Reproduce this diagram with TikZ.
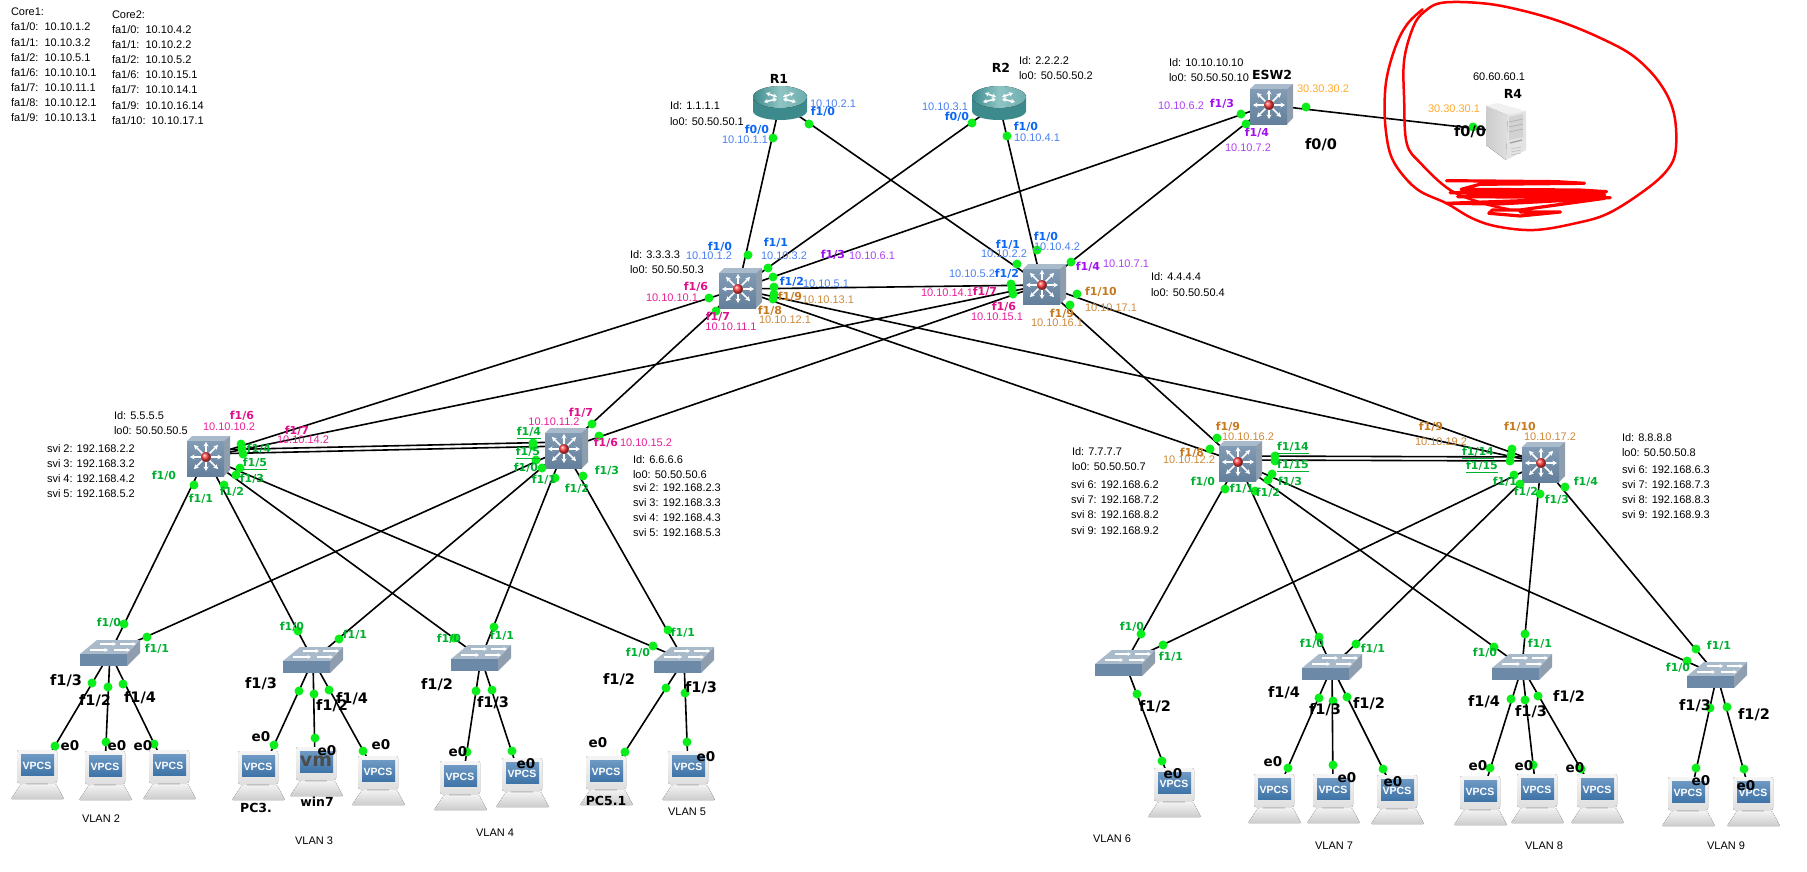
\documentclass[tikz,border=0pt]{standalone}
\usepackage{fontspec}
\setmainfont{Liberation Sans}
\newfontfamily\labf{DejaVu Sans}
\usetikzlibrary{arrows.meta}
\definecolor{ipblue}{HTML}{4A80F0}
\definecolor{pblue}{HTML}{0A66F5}
\definecolor{ipurple}{HTML}{B040F5}
\definecolor{ppurple}{HTML}{A010F0}
\definecolor{ipink}{HTML}{E8209A}
\definecolor{ppink}{HTML}{E0108A}
\definecolor{iorange}{HTML}{CE8A3C}
\definecolor{porange}{HTML}{C67A20}
\definecolor{igold}{HTML}{FFAA2A}
\definecolor{pgreen}{HTML}{00B030}
\definecolor{dotg}{HTML}{0CEE1C}
\definecolor{swfront}{HTML}{6C8AA8}
\definecolor{swtop}{HTML}{A9BBCB}
\definecolor{swside}{HTML}{8E9EAE}
\definecolor{teal1}{HTML}{3C8A8C}
\definecolor{teal2}{HTML}{8FC4C4}
\definecolor{scrtop}{HTML}{6E9AC4}
\definecolor{scrbot}{HTML}{3F74A8}
\newcounter{lbc}
\newcommand{\lb}[3]{\stepcounter{lbc}\node[#1] (lb\arabic{lbc}) at (#2) {#3};}
\newcommand{\pdot}[1]{\stepcounter{lbc}\node[portdot] (pd\arabic{lbc}) at (#1) {};}
\newcommand{\ulb}[1]{$\underline{\hbox{#1}}$}
\newcommand{\pcicon}[1]{\pic at (#1) {pcbody}; \lb{vpcs}{#1}{VPCS}}
\tikzset{
  lbbase/.style={inner sep=0pt,outer sep=0pt},
  tx/.style={lbbase,anchor=west,text=black,font=\fontsize{11}{13}\selectfont},
  vl/.style={lbbase,text=black,font=\fontsize{11}{13}\selectfont},
  ipb/.style={lbbase,text=ipblue,font=\fontsize{11}{13}\selectfont},
  ipu/.style={lbbase,text=ipurple,font=\fontsize{11}{13}\selectfont},
  ipk/.style={lbbase,text=ipink,font=\fontsize{11}{13}\selectfont},
  ior/.style={lbbase,text=iorange,font=\fontsize{11}{13}\selectfont},
  igo/.style={lbbase,text=igold,font=\fontsize{11}{13}\selectfont},
  pb/.style={lbbase,text=pblue,font=\labf\bfseries\fontsize{11}{13}\selectfont},
  ppu/.style={lbbase,text=ppurple,font=\labf\bfseries\fontsize{11}{13}\selectfont},
  ppk/.style={lbbase,text=ppink,font=\labf\bfseries\fontsize{11}{13}\selectfont},
  por/.style={lbbase,text=porange,font=\labf\bfseries\fontsize{11}{13}\selectfont},
  pg/.style={lbbase,text=pgreen,font=\labf\bfseries\fontsize{11}{13}\selectfont},
  pk/.style={lbbase,text=black,font=\labf\bfseries\fontsize{14.5}{16}\selectfont},
  ek/.style={lbbase,text=black,font=\labf\bfseries\fontsize{13.5}{16}\selectfont},
  nm/.style={lbbase,text=black,font=\labf\bfseries\fontsize{12.5}{15}\selectfont},
  vpcs/.style={lbbase,text=white,font=\bfseries\fontsize{10.5}{12}\selectfont},
  vmt/.style={lbbase,text=black!70,font=\labf\bfseries\fontsize{19}{20}\selectfont},
  devnode/.style={inner sep=0pt,outer sep=0pt,minimum size=6pt,draw=none},
  portdot/.style={circle,fill=dotg,draw=none,inner sep=0pt,minimum size=9pt},
  link/.style={draw=black,line width=1.6pt},
  scrib/.style={draw=red,line width=2.5pt,line cap=round,line join=round},
  mlsw/.pic={
    \fill[swtop] (-19,-16)--(-14,-21)--(24,-21)--(18,-16)--cycle;
    \fill[swside] (18,-16)--(24,-21)--(24,13)--(18,19)--cycle;
    \fill[top color=swfront!85!white,bottom color=swfront!92!black] (-19,-16) rectangle (18,19);
    \foreach \ang/\len in {0/16,45/17,90/14,135/17,180/16,225/17,270/15,315/17}
      \draw[white,line width=1.6pt,-{Stealth[length=4.5pt,width=5pt]}] (0,0) -- (\ang:\len);
    \shade[ball color=red!70!pink] (0,0) circle (5);
  },
  router/.pic={
    \fill[teal1] (-27,-8) -- (-27,8) arc[start angle=180,end angle=360,x radius=27,y radius=-9] -- (27,-8) -- cycle;
    \fill[left color=teal1,right color=teal2!60!teal1,middle color=teal2] (0,-6) ellipse (27 and 11);
    \foreach \sx/\sy/\tx/\ty in {-14/-10/-3/-6, 14/-10/3/-6, -3/-4/-16/-1, 3/-4/16/-1}
      \draw[white,line width=1.5pt,{Stealth[length=4pt,width=4.5pt]}-{Stealth[length=4pt,width=4.5pt]}] (\sx,\sy) -- (\tx,\ty);
  },
  accsw/.pic={
    \fill[swtop] (-30,1)--(-13,-13)--(30,-13)--(17,1)--cycle;
    \fill[swside] (17,1)--(30,-13)--(30,0)--(17,13)--cycle;
    \fill[swfront] (-30,1) rectangle (17,13);
    \foreach \ax/\ay/\bx/\by in {-10/-9/6/-9, 10/-9/26/-9, -20/-3/-2/-3, 4/-3/20/-3}
      \draw[white,line width=1.3pt,-{Stealth[length=3.5pt,width=4pt]}] (\ax,\ay) -- (\bx,\by);
  },
  pcbody/.pic={
    \fill[top color=gray!10,bottom color=gray!40,rounded corners=1pt] (-16,18) -- (19,18) -- (27,33) -- (-26,33) -- cycle;
    \fill[gray!30] (-11,15) rectangle (11,19);
    \fill[top color=gray!8,bottom color=gray!25,rounded corners=2pt] (-20,-16) rectangle (20,17);
    \fill[top color=scrtop,bottom color=scrbot] (-16,-12) rectangle (17,9);
  },
  server/.pic={
    \fill[left color=gray!40,right color=gray!25] (-20,-26) -- (2,-17) -- (0,28) -- (-20,13) -- cycle;
    \fill[gray!12] (-20,-26) -- (-9,-29) -- (20,-21) -- (2,-17) -- cycle;
    \fill[gray!22] (2,-17) -- (20,-21) -- (20,18) -- (0,28) -- cycle;
    \fill[gray!35] (3,-15) -- (17,-18) -- (17,5) -- (3,8) -- cycle;
    \foreach \yy in {-10,-5,0}
      \draw[gray!65,line width=.6pt] (3,\yy) -- (17,\yy-3);
    \draw[gray!70,line width=1.4pt] (4,11) -- (16,8);
    \foreach \yy in {17,20,23}
      \draw[gray!55,line width=.5pt] (5,\yy) -- (15,\yy-2);
  },
}
\begin{document}
\begin{tikzpicture}[x=1pt,y=-1pt]
\useasboundingbox[fill=white] (0,0) rectangle (1807,871);
% ---- device anchors
\node[devnode] (r1) at (780,103) {};
\node[devnode] (r2) at (999,103) {};
\node[devnode] (esw2) at (1269,105) {};
\node[devnode] (r4) at (1506,132) {};
\node[devnode] (core1) at (738,289) {};
\node[devnode] (core2) at (1042,285) {};
\node[devnode] (dist1) at (206,457) {};
\node[devnode] (dist2) at (564,449) {};
\node[devnode] (dist3) at (1238,462) {};
\node[devnode] (dist4) at (1541,463) {};
\node[devnode] (s1) at (110,653) {};
\node[devnode] (s2) at (313,660) {};
\node[devnode] (s3) at (481,658) {};
\node[devnode] (s4) at (684,660) {};
\node[devnode] (s5) at (1125,663) {};
\node[devnode] (s6) at (1332,667) {};
\node[devnode] (s7) at (1522,667) {};
\node[devnode] (s8) at (1717,675) {};
\node[devnode] (p1) at (43,766) {};
\node[devnode] (p2) at (105,767) {};
\node[devnode] (p3) at (165,766) {};
\node[devnode] (p4) at (264,767) {};
\node[devnode] (p5) at (315,763) {};
\node[devnode] (p6) at (375,772) {};
\node[devnode] (p7) at (463,777) {};
\node[devnode] (p8) at (519,774) {};
\node[devnode] (p9) at (612,772) {};
\node[devnode] (p10) at (688,767) {};
\node[devnode] (q1) at (1171,784) {};
\node[devnode] (q2) at (1278,790) {};
\node[devnode] (q3) at (1333,790) {};
\node[devnode] (q4) at (1394,791) {};
\node[devnode] (q5) at (1483,792) {};
\node[devnode] (q6) at (1536,790) {};
\node[devnode] (q7) at (1593,790) {};
\node[devnode] (q8) at (1691,793) {};
\node[devnode] (q9) at (1750,793) {};
% ---- connectors
\foreach \a/\b in {r1/core1,r1/core2,r2/core1,r2/core2,esw2/core1,esw2/core2,esw2/r4,core1/core2,
  core1/dist1,core1/dist2,core1/dist3,core1/dist4,core2/dist1,core2/dist2,core2/dist3,core2/dist4,
  dist1/s1,dist1/s2,dist1/s3,dist1/s4,dist2/s1,dist2/s2,dist2/s3,dist2/s4,
  dist3/s5,dist3/s6,dist3/s7,dist3/s8,dist4/s5,dist4/s6,dist4/s7,dist4/s8,
  s1/p1,s1/p2,s1/p3,s2/p4,s2/p5,s2/p6,s3/p7,s3/p8,s4/p9,s4/p10,
  s5/q1,s6/q2,s6/q3,s6/q4,s7/q5,s7/q6,s7/q7,s8/q8,s8/q9}
  \draw[link] (\a.center) -- (\b.center);
\draw[link] ([yshift=3pt]dist1.center) -- ([yshift=3pt]dist2.center);
\draw[link] ([yshift=7pt]dist1.center) -- ([yshift=7pt]dist2.center);
\draw[link] ([yshift=2pt]dist3.center) -- ([yshift=2pt]dist4.center);
\draw[link] ([yshift=6pt]dist3.center) -- ([yshift=6pt]dist4.center);
% ---- red scribble
\begin{scope}[shift={(1130,0)},x=0.368pt,y=-0.3333pt]
\draw[scrib] plot[smooth,tension=0.6] coordinates {(795,28) (755,70) (725,130) (700,220) (692,300) (695,390) (710,470) (745,530) (790,575) (860,610) (930,655) (1000,680) (1100,690) (1210,670) (1300,640) (1400,570) (1460,510) (1483,450) (1478,340) (1440,250) (1370,170) (1280,115) (1170,65) (1060,30) (960,10) (850,8) (800,35) (770,80) (745,180) (745,300) (752,430) (790,490) (870,570) (960,610) (1030,628)};
\draw[scrib,line width=3.2pt] (860,542) -- (1160,545) -- (1235,550) -- (950,553) -- (900,568) -- (1220,570) -- (1295,575) -- (870,578) -- (1290,585) -- (890,590) -- (1305,593) -- (1120,600) -- (860,610) -- (1000,612) -- (1290,595) -- (1060,630) -- (985,630) -- (975,640) -- (1060,648) -- (1170,636) -- (1060,636);
\end{scope}
% ---- icons
\pic at (r1) {router};
\pic at (r2) {router};
\pic at (esw2) {mlsw};
\pic at (r4) {server};
\pic at (core1) {mlsw};
\pic at (core2) {mlsw};
\pic at (dist1) {mlsw};
\pic at (dist2) {mlsw};
\pic at (dist3) {mlsw};
\pic at (dist4) {mlsw};
\foreach \s in {s1,s2,s3,s4,s5,s6,s7,s8} \pic at (\s) {accsw};
\pcicon{37,766}\pcicon{105,767}\pcicon{169,766}\pcicon{258,767}
\pic at (316,763) {pcbody}; \lb{vmt}{316,761}{vm}
\pcicon{378,772}\pcicon{460,777}\pcicon{522,774}\pcicon{606,772}\pcicon{688,767}
\pcicon{1174,784}\pcicon{1274,790}\pcicon{1333,790}\pcicon{1397,791}\pcicon{1480,792}\pcicon{1537,790}\pcicon{1597,790}\pcicon{1688,793}\pcicon{1753,793}
% ---- port dots
\foreach \p in {{773,138},{809,124},{972,123},{1007,136},{1241,114},{1246,124},{1306,107},{1473,127},
 {748,255},{768,268},{773,277},{774,287},{774,294},{773,299},{709,298},{716,311},
 {1037,250},{1017,264},{1071,262},{1011,284},{1012,289},{1013,294},{1077,294},{1070,305},
 {241,444},{242,449},{243,454},{240,468},{236,475},{224,485},{194,485},
 {592,424},{599,436},{533,443},{533,446},{536,460},{542,468},{555,478},{583,476},
 {1217,438},{1210,449},{1275,456},{1275,461},{1272,474},{1268,480},{1225,489},{1255,491},
 {1512,449},{1511,455},{1510,461},{1514,475},{1520,484},{1540,494},{1565,487},
 {124,624},{147,637},{298,631},{339,639},{454,638},{494,627},{653,646},{668,630},
 {1141,634},{1163,645},{1319,637},{1356,644},{1494,647},{1525,634},{1687,661},{1696,649},
 {92,683},{108,687},{123,684},{55,746},{106,742},{154,744},
 {299,691},{314,694},{329,690},{274,745},{315,738},{363,751},
 {476,691},{492,690},{467,752},{512,751},{666,688},{685,693},{625,752},{687,742},
 {1137,694},{1162,761},{1319,698},{1333,701},{1347,697},{1288,768},{1333,765},{1383,769},
 {1511,699},{1525,700},{1538,696},{1490,768},{1533,765},{1581,769},
 {1710,708},{1727,707},{1696,768},{1744,769}}
 {\expandafter\pdot\expandafter{\p}}
% ---- core tables
\lb{tx}{11,12}{Core1:}
\lb{tx}{11,27}{fa1/0:\ \ 10.10.1.2}
\lb{tx}{11,43}{fa1/1:\ \ 10.10.3.2}
\lb{tx}{11,58}{fa1/2:\ \ 10.10.5.1}
\lb{tx}{11,73}{fa1/6:\ \ 10.10.10.1}
\lb{tx}{11,88}{fa1/7:\ \ 10.10.11.1}
\lb{tx}{11,103}{fa1/8:\ \ 10.10.12.1}
\lb{tx}{11,118}{fa1/9:\ \ 10.10.13.1}
\lb{tx}{112,15}{Core2:}
\lb{tx}{112,30}{fa1/0:\ \ 10.10.4.2}
\lb{tx}{112,45}{fa1/1:\ \ 10.10.2.2}
\lb{tx}{112,60}{fa1/2:\ \ 10.10.5.2}
\lb{tx}{112,75}{fa1/6:\ \ 10.10.15.1}
\lb{tx}{112,90}{fa1/7:\ \ 10.10.14.1}
\lb{tx}{112,106}{fa1/9:\ \ 10.10.16.14}
\lb{tx}{112,121}{fa1/10:\ \ 10.10.17.1}
% ---- R1 / R2
\lb{nm}{779,79}{R1}
\lb{nm}{1001,68}{R2}
\lb{tx}{670,106}{Id: 1.1.1.1}
\lb{tx}{670,122}{lo0: 50.50.50.1}
\lb{tx}{1019,61}{Id: 2.2.2.2}
\lb{tx}{1019,76}{lo0: 50.50.50.2}
\lb{ipb}{833,104}{10.10.2.1}
\lb{pb}{823,112}{f1/0}
\lb{pb}{757,130}{f0/0}
\lb{ipb}{745,140}{10.10.1.1}
\lb{ipb}{945,107}{10.10.3.1}
\lb{pb}{957,117}{f0/0}
\lb{pb}{1026,127}{f1/0}
\lb{ipb}{1037,138}{10.10.4.1}
% ---- Core1
\lb{tx}{630,255}{Id: 3.3.3.3}
\lb{tx}{630,270}{lo0: 50.50.50.3}
\lb{pb}{720,247}{f1/0}
\lb{ipb}{709,256}{10.10.1.2}
\lb{pb}{776,243}{f1/1}
\lb{ipb}{784,256}{10.10.3.2}
\lb{ppu}{833,255}{f1/3}
\lb{ipu}{872,256}{10.10.6.1}
\lb{pb}{792,282}{f1/2}
\lb{ipb}{826,284}{10.10.5.1}
\lb{por}{790,297}{f1/9}
\lb{ior}{828,300}{10.10.13.1}
\lb{por}{770,311}{f1/8}
\lb{ior}{785,320}{10.10.12.1}
\lb{ppk}{696,287}{f1/6}
\lb{ipk}{672,298}{10.10.10.1}
\lb{ppk}{718,317}{f1/7}
\lb{ipk}{731,327}{10.10.11.1}
% ---- Core2
\lb{tx}{1151,277}{Id: 4.4.4.4}
\lb{tx}{1151,293}{lo0: 50.50.50.4}
\lb{pb}{1046,237}{f1/0}
\lb{ipb}{1057,247}{10.10.4.2}
\lb{pb}{1008,245}{f1/1}
\lb{ipb}{1004,254}{10.10.2.2}
\lb{ipb}{972,274}{10.10.5.2}
\lb{pb}{1007,274}{f1/2}
\lb{ipk}{947,293}{10.10.14.1}
\lb{ppk}{985,292}{f1/7}
\lb{ppk}{1004,307}{f1/6}
\lb{ipk}{997,317}{10.10.15.1}
\lb{por}{1062,314}{f1/9}
\lb{ior}{1057,323}{10.10.16.1}
\lb{ppu}{1088,267}{f1/4}
\lb{ipu}{1126,264}{10.10.7.1}
\lb{por}{1101,292}{f1/10}
\lb{ior}{1111,308}{10.10.17.1}
% ---- ESW2 / R4
\lb{tx}{1169,63}{Id: 10.10.10.10}
\lb{tx}{1169,78}{lo0: 50.50.50.10}
\lb{nm}{1272,75}{ESW2}
\lb{igo}{1323,89}{30.30.30.2}
\lb{ipu}{1181,106}{10.10.6.2}
\lb{ppu}{1222,104}{f1/3}
\lb{ppu}{1257,133}{f1/4}
\lb{ipu}{1248,148}{10.10.7.2}
\lb{pk}{1321,145}{f0/0}
\lb{vl}{1499,77}{60.60.60.1}
\lb{nm}{1513,94}{R4}
\lb{igo}{1454,109}{30.30.30.1}
\lb{pk}{1470,132}{f0/0}
% ---- Dist1
\lb{tx}{114,416}{Id: 5.5.5.5}
\lb{tx}{114,431}{lo0: 50.50.50.5}
\lb{tx}{47,449}{svi 2: 192.168.2.2}
\lb{tx}{47,464}{svi 3: 192.168.3.2}
\lb{tx}{47,479}{svi 4: 192.168.4.2}
\lb{tx}{47,494}{svi 5: 192.168.5.2}
\lb{ppk}{242,416}{f1/6}
\lb{ipk}{229,427}{10.10.10.2}
\lb{ppk}{297,431}{f1/7}
\lb{ipk}{303,440}{10.10.14.2}
\lb{pg}{259,449}{f1/4}
\lb{pg}{255,464}{\ulb{f1/5}}
\lb{pg}{252,479}{f1/3}
\lb{pg}{232,492}{f1/2}
\lb{pg}{201,499}{f1/1}
\lb{pg}{164,476}{f1/0}
% ---- Dist2
\lb{tx}{633,460}{Id: 6.6.6.6}
\lb{tx}{633,475}{lo0: 50.50.50.6}
\lb{tx}{633,488}{svi 2: 192.168.2.3}
\lb{tx}{633,503}{svi 3: 192.168.3.3}
\lb{tx}{633,518}{svi 4: 192.168.4.3}
\lb{tx}{633,533}{svi 5: 192.168.5.3}
\lb{ppk}{581,413}{f1/7}
\lb{ipk}{554,422}{10.10.11.2}
\lb{pg}{529,433}{\ulb{f1/4}}
\lb{pg}{528,453}{\ulb{f1/5}}
\lb{pg}{526,468}{f1/0}
\lb{pg}{544,480}{f1/1}
\lb{pg}{577,489}{f1/2}
\lb{pg}{607,471}{f1/3}
\lb{ppk}{606,443}{f1/6}
\lb{ipk}{646,443}{10.10.15.2}
% ---- Dist3
\lb{tx}{1072,452}{Id: 7.7.7.7}
\lb{tx}{1072,467}{lo0: 50.50.50.7}
\lb{tx}{1071,485}{svi 6: 192.168.6.2}
\lb{tx}{1071,500}{svi 7: 192.168.7.2}
\lb{tx}{1071,515}{svi 8: 192.168.8.2}
\lb{tx}{1071,531}{svi 9: 192.168.9.2}
\lb{por}{1228,427}{f1/9}
\lb{ior}{1248,437}{10.10.16.2}
\lb{por}{1192,453}{f1/8}
\lb{ior}{1189,460}{10.10.12.2}
\lb{pg}{1293,448}{\ulb{f1/14}}
\lb{pg}{1293,466}{\ulb{f1/15}}
\lb{pg}{1290,482}{f1/3}
\lb{pg}{1268,493}{f1/2}
\lb{pg}{1242,489}{f1/1}
\lb{pg}{1203,482}{f1/0}
% ---- Dist4
\lb{tx}{1622,438}{Id: 8.8.8.8}
\lb{tx}{1622,453}{lo0: 50.50.50.8}
\lb{tx}{1622,470}{svi 6: 192.168.6.3}
\lb{tx}{1622,485}{svi 7: 192.168.7.3}
\lb{tx}{1622,500}{svi 8: 192.168.8.3}
\lb{tx}{1622,515}{svi 9: 192.168.9.3}
\lb{por}{1431,427}{f1/9}
\lb{ior}{1441,442}{10.10.19.2}
\lb{por}{1520,427}{f1/10}
\lb{ior}{1550,437}{10.10.17.2}
\lb{pg}{1478,453}{\ulb{f1/14}}
\lb{pg}{1482,467}{\ulb{f1/15}}
\lb{pg}{1505,482}{f1/1}
\lb{pg}{1526,492}{f1/2}
\lb{pg}{1557,500}{f1/3}
\lb{pg}{1586,482}{f1/4}
% ---- access switch uplink labels
\lb{pg}{109,623}{f1/0}
\lb{pg}{157,649}{f1/1}
\lb{pg}{292,627}{f1/0}
\lb{pg}{355,635}{f1/1}
\lb{pg}{449,639}{f1/0}
\lb{pg}{502,636}{f1/1}
\lb{pg}{638,653}{f1/0}
\lb{pg}{683,633}{f1/1}
\lb{pg}{1132,627}{f1/0}
\lb{pg}{1171,657}{f1/1}
\lb{pg}{1312,644}{f1/0}
\lb{pg}{1373,649}{f1/1}
\lb{pg}{1485,653}{f1/0}
\lb{pg}{1540,644}{f1/1}
\lb{pg}{1678,668}{f1/0}
\lb{pg}{1719,646}{f1/1}
% ---- access switch downlink labels
\lb{pk}{66,681}{f1/3}
\lb{pk}{95,701}{f1/2}
\lb{pk}{140,698}{f1/4}
\lb{ek}{70,746}{e0}
\lb{ek}{117,746}{e0}
\lb{ek}{143,746}{e0}
\lb{pk}{261,684}{f1/3}
\lb{pk}{332,706}{f1/2}
\lb{pk}{352,699}{f1/4}
\lb{ek}{261,737}{e0}
\lb{ek}{327,751}{e0}
\lb{ek}{381,745}{e0}
\lb{nm}{256,808}{PC3.}
\lb{nm}{317,802}{win7}
\lb{pk}{437,685}{f1/2}
\lb{pk}{493,703}{f1/3}
\lb{ek}{458,752}{e0}
\lb{ek}{526,764}{e0}
\lb{pk}{619,680}{f1/2}
\lb{pk}{701,688}{f1/3}
\lb{ek}{598,743}{e0}
\lb{ek}{706,757}{e0}
\lb{nm}{606,801}{PC5.1}
\lb{pk}{1155,707}{f1/2}
\lb{ek}{1173,774}{e0}
\lb{pk}{1284,693}{f1/4}
\lb{pk}{1325,710}{f1/3}
\lb{pk}{1369,704}{f1/2}
\lb{ek}{1273,762}{e0}
\lb{ek}{1347,778}{e0}
\lb{ek}{1393,782}{e0}
\lb{pk}{1484,702}{f1/4}
\lb{pk}{1531,712}{f1/3}
\lb{pk}{1569,697}{f1/2}
\lb{ek}{1478,766}{e0}
\lb{ek}{1524,766}{e0}
\lb{ek}{1575,768}{e0}
\lb{pk}{1695,706}{f1/3}
\lb{pk}{1754,715}{f1/2}
\lb{ek}{1701,781}{e0}
\lb{ek}{1746,786}{e0}
% ---- VLAN labels
\lb{vl}{101,819}{VLAN 2}
\lb{vl}{314,841}{VLAN 3}
\lb{vl}{495,833}{VLAN 4}
\lb{vl}{687,812}{VLAN 5}
\lb{vl}{1112,839}{VLAN 6}
\lb{vl}{1334,846}{VLAN 7}
\lb{vl}{1544,846}{VLAN 8}
\lb{vl}{1726,846}{VLAN 9}
\end{tikzpicture}
\end{document}
